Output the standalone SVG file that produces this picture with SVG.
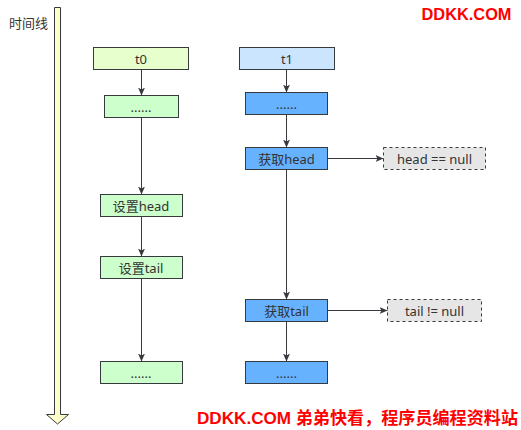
<svg xmlns="http://www.w3.org/2000/svg" width="521" height="430" viewBox="0 0 521 430">
<defs>
<style>
.box{stroke:#36393d;stroke-width:1}
.g1{fill:#E6FFCC}.g2{fill:#CCFFCC}.b1{fill:#CCE5FF}.b2{fill:#66B2FF}
.dash{fill:#E6E6E6;stroke:#36393d;stroke-width:1;stroke-dasharray:3 3}
.lbl{font-family:"Noto Sans","Noto Sans CJK SC",sans-serif;font-size:13px;fill:#333;text-anchor:middle;dominant-baseline:central}
.edge{stroke:#36393d;stroke-width:1;fill:none;marker-end:url(#arr)}
.wm{font-family:"Liberation Sans","Noto Sans CJK SC",sans-serif;font-weight:bold;fill:#FF0000}
</style>
<marker id="arr" viewBox="0 0 8 8" refX="8" refY="4" markerWidth="8" markerHeight="8" markerUnits="userSpaceOnUse" orient="auto">
<path d="M0,0.5 L8,4 L0,7.5 L2,4 Z" fill="#36393d"/>
</marker>
</defs>
<rect width="521" height="430" fill="#FFFFFF"/>
<g id="timeline">
<path d="M54.5,7.5 H60.5 V414.5 H68.5 L57.5,424 L46.5,414.5 H54.5 Z" fill="#FFFFCC" stroke="#36393d" stroke-width="1"/>
<text x="9" y="23" style="font-family:'Noto Sans','Noto Sans CJK SC',sans-serif;font-size:13px;fill:#333;dominant-baseline:central">时间线</text>
</g>
<g id="t0"><rect class="box g1" x="93.5" y="47.5" width="95" height="22"/><text class="lbl" x="141" y="58.5">t0</text></g>
<g id="t0-dots1"><rect class="box g2" x="104.5" y="95.5" width="74" height="22"/><text class="lbl" x="141" y="106.5">......</text></g>
<g id="set-head"><rect class="box g2" x="100.5" y="194.5" width="82" height="22"/><text class="lbl" x="141" y="205.5">设置head</text></g>
<g id="set-tail"><rect class="box g2" x="100.5" y="256.5" width="82" height="22"/><text class="lbl" x="141" y="267.5">设置tail</text></g>
<g id="t0-dots2"><rect class="box g2" x="100.5" y="361.5" width="82" height="22"/><text class="lbl" x="141" y="372.5">......</text></g>
<g id="t1"><rect class="box b1" x="239.5" y="47.5" width="95" height="22"/><text class="lbl" x="287" y="58.5">t1</text></g>
<g id="t1-dots1"><rect class="box b2" x="245.5" y="92.5" width="82" height="22"/><text class="lbl" x="286.5" y="103.5">......</text></g>
<g id="get-head"><rect class="box b2" x="245.5" y="147.5" width="82" height="22"/><text class="lbl" x="286.5" y="158.5">获取head</text></g>
<g id="head-null"><rect class="dash" x="383.5" y="147.5" width="102" height="22"/><text class="lbl" x="434.5" y="158.5">head == null</text></g>
<g id="get-tail"><rect class="box b2" x="245.5" y="299.5" width="82" height="22"/><text class="lbl" x="286.5" y="310.5">获取tail</text></g>
<g id="tail-notnull"><rect class="dash" x="387.5" y="299.5" width="94" height="22"/><text class="lbl" x="434.5" y="310.5">tail != null</text></g>
<g id="t1-dots2"><rect class="box b2" x="245.5" y="361.5" width="82" height="22"/><text class="lbl" x="286.5" y="372.5">......</text></g>
<g id="connectors">
<path class="edge" d="M141.5,69.5 V95.5"/>
<path class="edge" d="M141.5,117.5 V194.5"/>
<path class="edge" d="M141.5,216.5 V256.5"/>
<path class="edge" d="M141.5,278.5 V361.5"/>
<path class="edge" d="M286.5,69.5 V92.5"/>
<path class="edge" d="M286.5,114.5 V147.5"/>
<path class="edge" d="M286.5,169.5 V299.5"/>
<path class="edge" d="M286.5,321.5 V361.5"/>
<path class="edge" d="M327.5,158.5 H383.5"/>
<path class="edge" d="M327.5,310.5 H387.5"/>
</g>
<g id="watermarks">
<text class="wm" x="421.5" y="19.5" font-size="16.5" textLength="90" lengthAdjust="spacingAndGlyphs">DDKK.COM</text>
<text class="wm" x="197" y="424" font-size="17" textLength="321" lengthAdjust="spacingAndGlyphs">DDKK.COM 弟弟快看，程序员编程资料站</text>
</g>
</svg>
